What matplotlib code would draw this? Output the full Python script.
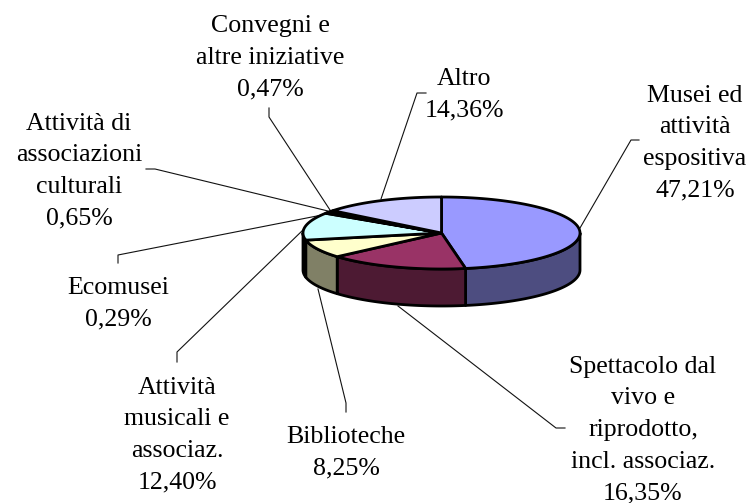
import numpy as np
import matplotlib
matplotlib.use("Agg")
import matplotlib.pyplot as plt

# slices, clockwise from 12 o'clock
shares = [47.21, 16.35, 8.25, 12.40, 0.29, 0.65, 0.47, 14.36]
top_colors = ["#9999FF", "#993366", "#FFFFCC", "#CCFFFF", "#660066", "#FF8080", "#0066CC", "#CCCCFF"]
side_colors = ["#4D4D80", "#4D1A33", "#808066", "#668080", "#330033", "#804040", "#003366", "#666680"]

labels = ["Musei ed\nattività\nespositiva\n47,21%", "Spettacolo dal\nvivo e\nriprodotto,\nincl. associaz.\n16,35%",
          "Biblioteche\n8,25%", "Attività\nmusicali e\nassociaz.\n12,40%", "Ecomusei\n0,29%",
          "Attività di\nassociazioni\nculturali\n0,65%", "Convegni e\naltre iniziative\n0,47%", "Altro\n14,36%"]
label_x = [695, 643, 346, 177, 118, 79, 270, 464]
label_y = [143, 430, 453, 435, 304, 171, 58, 95]

# leader lines in picture pixels
leader_x = [[580, 631, 639], [398, 556, 565], [318, 346, 346], [304, 177, 177],
            [322, 118, 118], [328, 155, 146], [330, 269, 269], [381, 417, 426]]
leader_y = [[228, 140, 140], [306, 428, 428], [289, 403, 412], [229, 352, 362],
            [215, 255, 263], [211, 169, 169], [210, 117, 108], [199, 93, 93]]

cx, cy, rx, ry, depth = 441.5, 233, 138.5, 36, 37

def rim(a0, a1, y0=cy):
    t = np.radians(np.linspace(a0, a1, 80))
    return cx + rx * np.sin(t), y0 - ry * np.cos(t)

fig = plt.figure(figsize=(7.54, 5.03), dpi=100)
ax = fig.add_axes([0, 0, 1, 1])
ax.set_xlim(0, 754)
ax.set_ylim(503, 0)
ax.axis("off")

edges = np.concatenate([[0], np.cumsum(shares)]) / sum(shares) * 360

# front wall first, only what faces the viewer
for i in range(len(shares)):
    a0, a1 = max(edges[i], 90), min(edges[i + 1], 270)
    if a0 >= a1:
        continue
    x, y = rim(a0, a1)
    xs = np.concatenate([x, x[::-1]])
    ys = np.concatenate([y, y[::-1] + depth])
    ax.fill(xs, ys, facecolor=side_colors[i], edgecolor="black", lw=2.0, joinstyle="round", zorder=2)

for i in range(len(shares)):
    x, y = rim(edges[i], edges[i + 1])
    ax.fill(np.r_[cx, x], np.r_[cy, y], facecolor=top_colors[i], edgecolor="black", lw=2.0, joinstyle="round", zorder=3)

for i in range(len(labels)):
    ax.plot(leader_x[i], leader_y[i], color="#111111", lw=0.8, zorder=1)
    ax.text(label_x[i], label_y[i], labels[i], ha="center", va="center", fontsize=18.6,
            family="Liberation Serif", linespacing=1.56, color="black")

fig.savefig("out.png", dpi=100)
